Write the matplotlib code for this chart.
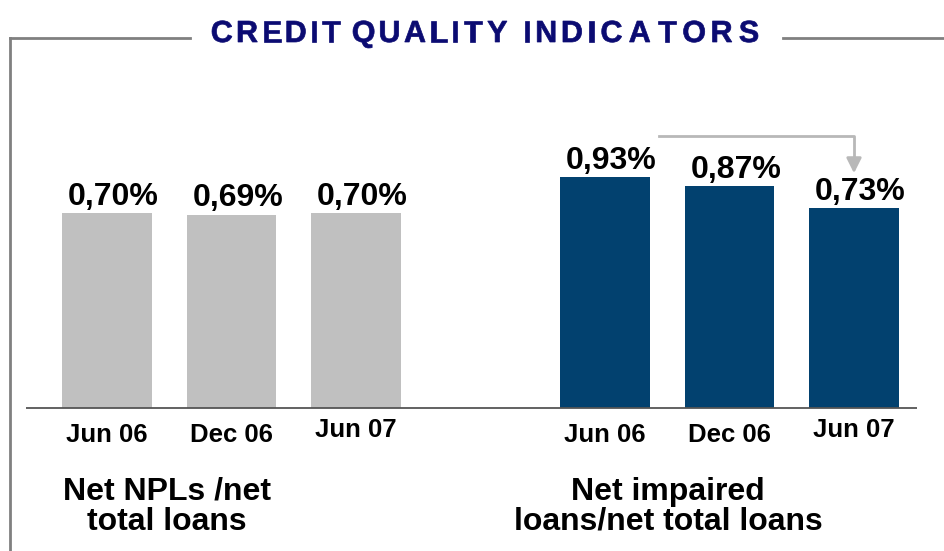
import numpy as np
import matplotlib
matplotlib.use('Agg')
import matplotlib.pyplot as plt
from matplotlib.lines import Line2D
from matplotlib.textpath import TextPath
from matplotlib.font_manager import FontProperties
from matplotlib.patches import PathPatch
from matplotlib.transforms import Affine2D, IdentityTransform

plt.rcParams['font.family'] = ['Liberation Sans', 'DejaVu Sans']

# data
periods = ['Jun 06', 'Dec 06', 'Jun 07']
npl_ratio = [0.70, 0.69, 0.70]        # Net NPLs / net total loans (%)
impaired_ratio = [0.93, 0.87, 0.73]   # Net impaired loans / net total loans (%)
group_titles = ['Net NPLs /net\ntotal loans', 'Net impaired\nloans/net total loans']
title_words = ['CREDIT', 'QUALITY', 'INDICATORS']

W, H = 945, 551
fig = plt.figure(figsize=(W / 100, H / 100), dpi=100)
ax = fig.add_axes([0, 0, 1, 1])
ax.axis('off')

# scale: bars sit on a baseline that is not zero (presentation chart)
base = -0.546
unit_px = 124.5     # px per category slot
k_px = 156.5        # px per 1 percentage point
x0_px = 107
base_px = H - 408
ax.set_xlim(-x0_px / unit_px, (W - x0_px) / unit_px)
ax.set_ylim(base - base_px / k_px, base + (H - base_px) / k_px)

x_left = np.arange(3)
x_right = np.arange(3) + 4
bw = 0.72
ax.bar(x_left, np.array(npl_ratio) - base, bottom=base, width=bw, color='#c0c0c0')
ax.bar(x_right, np.array(impaired_ratio) - base, bottom=base, width=bw, color='#02416f')

for xs, vals in [(x_left, npl_ratio), (x_right, impaired_ratio)]:
    for x, v in zip(xs, vals):
        ax.text(x + 0.05, v + 0.008, ('%.2f%%' % v).replace('.', ','),
                ha='center', va='bottom', fontsize=23, fontweight='bold', color='black')

# baseline
ax.plot([(26 - x0_px) / unit_px, (917 - x0_px) / unit_px], [base, base],
        color='#555555', lw=1.3, solid_capstyle='butt')

# arrow from Jun 06 to Jun 07 of impaired loans
y_arr = base + (408 - 136) / k_px
y_tip = base + (408 - 176) / k_px
x_a = (659 - x0_px) / unit_px
x_b = 6.0
ax.plot([x_a, x_b, x_b], [y_arr, y_arr, y_tip + 0.08], color='#b8b8b8', lw=2)
ax.annotate('', xy=(x_b, y_tip), xytext=(x_b, y_tip + 0.1),
            arrowprops=dict(arrowstyle='-|>,head_width=0.45,head_length=0.9',
                            color='#b8b8b8', lw=2))

# category labels
tick_y = [435, 435, 430]
for xs in (x_left, x_right):
    for x, lab, ty in zip(xs, periods, tick_y):
        fig.text((x0_px + x * unit_px) / W, 1 - ty / H, lab, ha='center', va='center',
                 fontsize=18.5, fontweight='bold')

fig.text(167 / W, 1 - 507 / H, group_titles[0], ha='center', va='center',
         fontsize=23, fontweight='bold', linespacing=1.0)
fig.text(668 / W, 1 - 507 / H, group_titles[1], ha='center', va='center',
         fontsize=23, fontweight='bold', linespacing=1.0)

# title: each word spread letter by letter over its span (pixel coordinates)
prop = FontProperties(family='Liberation Sans', weight='bold')
size_px = 30.5
word_spans = [(212, 340), (353, 507), (525, 758)]
y_base = H - 42
for word, (xs0, xs1) in zip(title_words, word_spans):
    glyphs = [TextPath((0, 0), c, size=size_px, prop=prop) for c in word]
    ink = [g.get_extents() for g in glyphs]
    widths = [e.width for e in ink]
    track = (xs1 - xs0 - sum(widths)) / (len(word) - 1)
    xc = xs0
    for g, e, w in zip(glyphs, ink, widths):
        tr = Affine2D().translate(xc - e.x0, y_base) + IdentityTransform()
        fig.add_artist(PathPatch(g, transform=tr, facecolor='#0b0b72',
                                 edgecolor='#0b0b72', lw=0.5))
        xc += w + track

fig.add_artist(Line2D([10 / W, 190 / W], [1 - 38 / H, 1 - 38 / H], color='#808080', lw=2))
fig.add_artist(Line2D([783 / W, 1], [1 - 38 / H, 1 - 38 / H], color='#808080', lw=2))
fig.add_artist(Line2D([10 / W, 10 / W], [1 - 38 / H, 0], color='#808080', lw=2))

fig.savefig('out.png', dpi=100)
